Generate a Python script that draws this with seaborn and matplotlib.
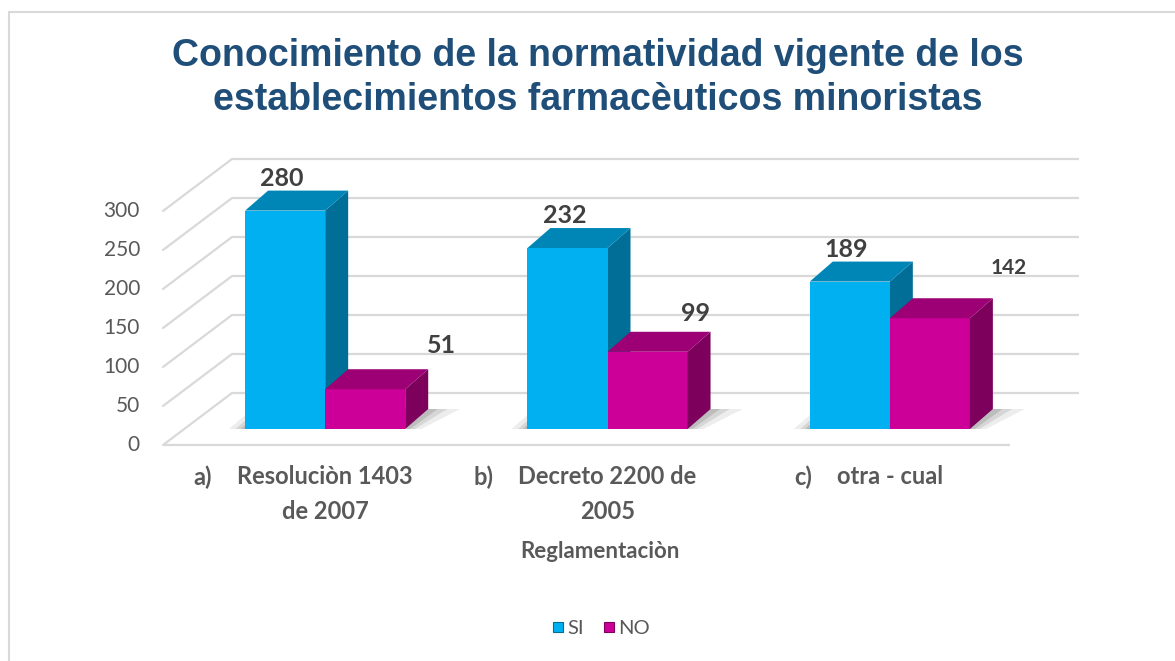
import numpy as np
import pandas as pd
import matplotlib
matplotlib.use("Agg")
import matplotlib.pyplot as plt
from matplotlib.patches import Polygon, Rectangle
from matplotlib.lines import Line2D
import seaborn as sns

# ── Data ──────────────────────────────────────────────────────────────────────
CATEGORIES = ["Resoluciòn 1403\nde 2007", "Decreto 2200 de\n2005", "otra - cual"]
BULLETS = ["a)", "b)", "c)"]
SI_VALUES = [280, 232, 189]
NO_VALUES = [51, 99, 142]
SERIES = ["SI", "NO"]
Y_TICKS = [0, 50, 100, 150, 200, 250, 300]

TITLE = "Conocimiento de la normatividad vigente de los\nestablecimientos farmacèuticos minoristas"
X_LABEL = "Reglamentaciòn"

# ── Style ─────────────────────────────────────────────────────────────────────
FRONT = {"SI": "#00B0F0", "NO": "#CC0099"}
TOP = {"SI": "#0086B6", "NO": "#9C0074"}
SIDE = {"SI": "#006E96", "NO": "#7C005C"}
GRID = "#D9D9D9"
TEXT = "#595959"
LABEL = "#404040"

# pixel geometry of the fake 3-D look (figure is 1175 x 661 at dpi 100)
PX_X = 282.33          # pixels per category
PX_Y = 0.78            # pixels per value unit
BAR_DEPTH = (23, 20)   # bar depth offset, px (right, up)
BACK = (48, 36)        # back wall offset from bar plane, px
FRONT_EDGE = (-21, -16)  # front floor edge offset from bar plane, px

# per-label nudges in px, like the hand-moved labels of the original
NUDGE = {"SI": [(-3, 1), (-3, 1), (-4, 1)], "NO": [(76, 12), (48, 7), (79, 20)]}
LABEL_SIZE = {"SI": [18, 18, 18], "NO": [18, 18, 15]}


def px(offset):
    return offset[0] / PX_X, offset[1] / PX_Y


sns.set_theme(style="white")
plt.rcParams["font.family"] = ["Lato", "DejaVu Sans"]

df = pd.DataFrame({
    "categoria": CATEGORIES * 2,
    "serie": ["SI"] * len(CATEGORIES) + ["NO"] * len(CATEGORIES),
    "valor": SI_VALUES + NO_VALUES,
})

fig = plt.figure(figsize=(11.75, 6.61), dpi=100)
ax = fig.add_axes([184 / 1175, (661 - 429) / 661, 847 / 1175, 273 / 661])

sns.barplot(data=df, x="categoria", y="valor", hue="serie", hue_order=SERIES,
            palette=FRONT, saturation=1, width=0.567, legend=False,
            linewidth=0, ax=ax, zorder=3)

ax.set_xlim(-0.5, len(CATEGORIES) - 0.5)
ax.set_ylim(0, 350)
sns.despine(ax=ax, left=True, bottom=True)
ax.set_yticks([])
ax.set_ylabel("")
ax.grid(False)

# ── Floor, back wall and left wall lines ─────────────────────────────────────
bx, by = px(BACK)
fx, fy = px(FRONT_EDGE)
x_lo, x_hi = -0.5, len(CATEGORIES) - 0.5
for v in Y_TICKS:
    ax.plot([x_lo + bx, x_hi + bx], [v + by, v + by], color=GRID, lw=1.6,
            zorder=1, clip_on=False, solid_capstyle="butt")
    ax.plot([x_lo + fx, x_lo + bx], [v + fy, v + by], color=GRID, lw=1.6,
            zorder=1, clip_on=False)
    ax.annotate(str(v), xy=(x_lo + fx, v + fy), xytext=(-23, 0),
                textcoords="offset pixels", ha="right", va="center",
                fontsize=15, color=TEXT, annotation_clip=False)
ax.plot([x_lo + fx, x_hi + fx], [fy, fy], color=GRID, lw=1.6, zorder=1,
        clip_on=False, solid_capstyle="butt")

# ── 3-D faces, floor shadows and value labels ────────────────────────────────
dx, dy = px(BAR_DEPTH)
sh = 16 / PX_X
for k in range(len(CATEGORIES)):
    g0 = ax.containers[0].patches[k].get_x()
    g1 = ax.containers[1].patches[k].get_x() + ax.containers[1].patches[k].get_width()
    for grow, a in [(1.0, 0.10), (0.6, 0.14), (0.3, 0.18)]:
        ax.add_patch(Polygon([(g0 - sh * grow, 0), (g0 + dx - sh * grow, dy),
                              (g1 + dx + sh * grow * 2, dy), (g1 + sh * grow, 0)],
                             closed=True, facecolor="#505050", alpha=a,
                             edgecolor="none", zorder=1.5, clip_on=False))

for serie, container in zip(SERIES, ax.containers):
    values = SI_VALUES if serie == "SI" else NO_VALUES
    z = 2 if serie == "SI" else 3.5
    for i, (bar, val) in enumerate(zip(container.patches, values)):
        x0 = bar.get_x()
        x1 = x0 + bar.get_width()
        h = bar.get_height()
        side = Polygon([(x1, 0), (x1 + dx, dy), (x1 + dx, h + dy), (x1, h)],
                       closed=True, facecolor=SIDE[serie], edgecolor="none",
                       zorder=z, clip_on=False)
        top = Polygon([(x0, h), (x0 + dx, h + dy), (x1 + dx, h + dy), (x1, h)],
                      closed=True, facecolor=TOP[serie], edgecolor="none",
                      zorder=z, clip_on=False)
        ax.add_patch(side)
        ax.add_patch(top)
        nx, ny = NUDGE[serie][i]
        ax.annotate(f"{val}", xy=((x0 + x1) / 2, h + dy), xytext=(nx, ny),
                    textcoords="offset pixels", ha="center", va="bottom",
                    fontsize=LABEL_SIZE[serie][i], fontweight="bold",
                    color=LABEL, annotation_clip=False, zorder=5)

# ── Category labels ──────────────────────────────────────────────────────────
ax.set_xticks(range(len(CATEGORIES)))
ax.set_xticklabels(CATEGORIES, fontsize=17, fontweight="bold", color=TEXT,
                   linespacing=1.6)
ax.tick_params(axis="x", length=0, pad=26)
ax.set_xlabel(X_LABEL, fontsize=16, fontweight="bold", color=TEXT)
ax.xaxis.set_label_coords((600 - 184) / 847, -(551 - 429) / 273)
ax.xaxis.label.set_va("center")

fig.text(598 / 1175, 1 - 78 / 661, TITLE, ha="center", va="center",
         fontsize=27, fontweight="bold", color="#1F4E79",
         family=["Liberation Sans", "DejaVu Sans"], linespacing=1.3)

# bullets "a)" etc. sit a tab before each label
fig.canvas.draw()
renderer = fig.canvas.get_renderer()
for bullet, lbl in zip(BULLETS, ax.get_xticklabels()):
    bb = lbl.get_window_extent(renderer)
    fig.text((bb.x0 - 25) / fig.bbox.width, bb.y1 / fig.bbox.height, bullet,
             ha="right", va="top", fontsize=17, fontweight="bold", color=TEXT)

# ── Legend ───────────────────────────────────────────────────────────────────
handles = [Line2D([], [], ls="none", marker="s", markersize=7.5,
                  markerfacecolor=FRONT[s], markeredgecolor=SIDE[s],
                  markeredgewidth=0.8, label=s) for s in SERIES]
fig.legend(handles=handles, loc="center", bbox_to_anchor=(600 / 1175, 33 / 661),
           ncol=2, frameon=False, fontsize=14.5, labelcolor=TEXT,
           handletextpad=0.1, columnspacing=0.8, handlelength=0.8)

# chart frame
fig.add_artist(Rectangle((8.5 / 1175, -0.1), 1.2, 1 - 12.5 / 661 + 0.1,
                         transform=fig.transFigure, fill=False,
                         edgecolor=GRID, lw=1.5))

plt.savefig("out.png", dpi=100)
plt.close()
